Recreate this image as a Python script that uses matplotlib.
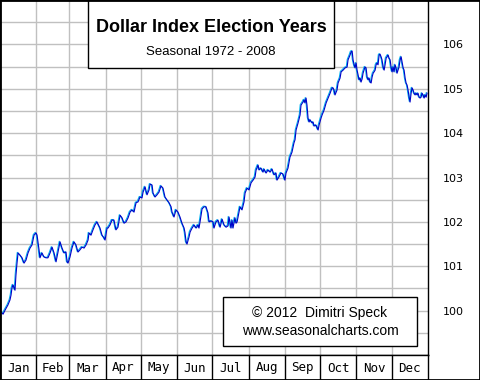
#%% load package
import numpy as np
import matplotlib
matplotlib.use('Agg')
import matplotlib.pyplot as plt
from matplotlib.patches import Rectangle
from matplotlib.transforms import offset_copy

#%% data: day of year vs seasonal index value
days = [
    0.9, 2.6, 4.3, 6.8, 8.5, 9.4, 10.2, 11.1, 12.8, 13.6, 14.5, 15.4, 17.1, 18.8, 20.5,
    22.2, 23.9, 25.6, 27.3, 29.0, 30.7, 31.6, 33.3, 34.1, 35.8, 37.5, 39.2, 40.9, 42.7,
    44.4, 46.1, 47.8, 49.5, 51.2, 52.9, 54.6, 56.3, 57.2, 58.0, 59.7, 61.4, 63.1, 64.8,
    66.5, 68.2, 69.9, 71.7, 73.4, 75.1, 75.9, 77.6, 79.3, 81.0, 82.7, 85.3, 87.0, 88.7,
    89.6, 91.3,
    92.1, 93.8, 95.5, 97.2, 98.9, 100.6, 102.4, 104.1, 105.8, 107.5, 109.2, 110.9, 112.6,
    114.3, 116.0, 117.7, 119.4, 121.1, 122.0, 123.7, 125.4, 127.1, 128.0, 129.7, 130.5,
    132.2, 133.9, 135.6, 137.3, 139.0, 140.7, 142.5, 144.2, 145.9, 146.7, 148.4, 150.1,
    151.8, 153.5, 155.2, 157.0, 157.8, 158.7, 159.5, 161.2, 162.1, 163.8, 165.5, 167.2,
    168.9, 169.7, 170.6, 172.3, 174.0, 175.7, 177.4, 178.3, 180.0, 181.7,
    182.5, 184.2, 185.9, 187.7, 189.4, 191.1, 192.8, 194.5, 195.3, 197.0, 197.9, 198.7,
    200.4, 201.3, 202.2, 203.0, 204.7, 206.4, 208.1, 209.0, 210.7, 212.4, 214.1, 215.8,
    217.5, 218.4, 220.1, 220.9, 222.6, 224.3, 225.2, 226.9, 228.6, 230.3, 232.0, 233.7,
    235.4, 236.2, 237.9, 239.6, 241.3, 243.0, 243.9, 245.6, 247.3, 249.0, 250.7, 251.6,
    252.5, 254.2, 255.9, 256.7, 258.4, 259.3, 260.1, 261.0, 261.8, 262.7, 263.6, 264.4,
    266.1, 267.0, 267.8, 269.5, 271.3, 272.1, 273.8, 274.7, 276.4, 278.1, 279.8, 281.5,
    283.2, 284.0, 284.9, 285.7, 287.4, 288.3, 290.0, 290.9, 292.6, 294.3, 296.0, 296.8,
    298.5, 299.4, 300.3,
    301.1, 302.0, 302.8, 303.7, 304.5, 305.4, 306.2, 307.1, 307.9, 308.8, 309.6, 310.5,
    311.3, 312.2, 313.1, 313.9, 314.8, 315.6, 316.5, 317.3, 318.2, 319.0, 319.9, 320.7,
    321.6, 322.4, 323.3, 324.1, 325.0, 325.8, 326.7, 327.6, 328.4, 329.3, 331.0, 331.8,
    332.7, 333.5, 334.4, 335.2, 336.1, 336.9, 337.8, 338.6, 339.5, 340.3, 341.2, 342.1,
    342.9, 343.8, 344.6, 345.5, 346.3, 347.2, 348.0, 348.9, 349.7, 350.6, 351.4, 352.3,
    353.1, 354.0, 354.8, 355.7, 356.5, 357.4, 358.2, 359.1, 359.9, 360.8, 361.7, 362.5,
    363.4, 364.2,
]
values = [
    99.97, 99.92, 100.01, 100.13, 100.24, 100.35, 100.51, 100.58, 100.46, 100.80, 101.07,
    101.30, 101.25, 101.19, 101.07, 101.14, 101.30, 101.41, 101.48, 101.70, 101.75, 101.70,
    101.37, 101.19, 101.30, 101.21, 101.19, 101.19, 101.30, 101.43, 101.30, 101.10, 101.32,
    101.55, 101.41, 101.30, 101.32, 101.10, 101.07, 101.21, 101.41, 101.55, 101.48, 101.32,
    101.37, 101.43, 101.41, 101.48, 101.59, 101.75, 101.70, 101.82, 101.93, 102.00, 101.86,
    101.70, 101.64, 101.59, 101.86,
    101.86, 101.93, 102.04, 102.04, 101.82, 101.88, 102.15, 102.09, 101.97, 102.00, 102.09,
    102.22, 102.27, 102.22, 102.43, 102.45, 102.56, 102.54, 102.67, 102.79, 102.61, 102.72,
    102.85, 102.83, 102.65, 102.56, 102.61, 102.67, 102.81, 102.76, 102.56, 102.49, 102.43,
    102.34, 102.22, 102.11, 102.27, 102.22, 102.11, 101.97, 101.86, 101.75, 101.55, 101.50,
    101.66, 101.77, 101.86, 101.93, 101.86, 101.93, 101.86, 102.00, 102.29, 102.34, 102.34,
    102.20, 102.00, 102.02, 102.00,
    101.86, 102.00, 102.04, 101.88, 102.06, 101.93, 101.88, 101.91, 102.11, 101.86, 102.04,
    101.86, 102.09, 101.97, 102.00, 102.11, 102.34, 102.27, 102.45, 102.65, 102.76, 102.72,
    102.88, 102.94, 103.01, 103.17, 103.28, 103.17, 103.21, 103.12, 103.19, 103.10, 103.17,
    103.12, 103.19, 103.06, 103.10, 102.94, 103.01, 103.10, 103.08, 102.94, 103.10, 103.21,
    103.46, 103.57, 103.78, 103.85,
    104.07, 104.23, 104.41, 104.63, 104.70, 104.75, 104.68, 104.79, 104.63, 104.34, 104.25,
    104.30, 104.23, 104.25, 104.16, 104.18, 104.07, 104.18, 104.34, 104.41, 104.52, 104.68,
    104.79, 104.90, 105.02, 105.02, 104.97, 104.86, 104.97, 105.13, 105.24, 105.38, 105.42,
    105.47, 105.49, 105.65, 105.76, 105.83, 105.85,
    105.65, 105.54, 105.47, 105.58, 105.42, 105.31, 105.20, 105.24, 105.15, 105.22, 105.35,
    105.42, 105.49, 105.47, 105.26, 105.20, 105.24, 105.15, 105.13, 105.26, 105.35, 105.38,
    105.42, 105.54, 105.58, 105.54, 105.76, 105.78, 105.72, 105.65, 105.49, 105.42, 105.54,
    105.69, 105.76, 105.69, 105.65, 105.49, 105.38, 105.49, 105.38, 105.54, 105.47, 105.35,
    105.42, 105.49, 105.65, 105.72, 105.60, 105.47, 105.42, 105.24, 105.13, 105.08, 104.97,
    104.81, 104.70, 104.90, 105.02, 104.97, 104.90, 104.86, 104.90, 104.86, 104.90, 104.81,
    104.79, 104.81, 104.90, 104.86, 104.79, 104.86, 104.81, 104.90,
]
month_names = ['Jan', 'Feb', 'Mar', 'Apr', 'May', 'Jun', 'Jul', 'Aug', 'Sep', 'Oct', 'Nov', 'Dec']
month_edges = [0, 31, 59, 90, 120, 151, 181, 212, 243, 273, 304, 334, 365]
y_labels = [100, 101, 102, 103, 104, 105, 106]

title = 'Dollar Index Election Years'
subtitle = 'Seasonal 1972 - 2008'
credit = ['\u00a9 2012  Dimitri Speck', 'www.seasonalcharts.com']

#%% figure
W, H = 480, 380
fig = plt.figure(figsize=(4.8, 3.8), dpi=100)
fig.patch.set_facecolor('white')

plot_r = 428
band_h = 25
ax = fig.add_axes([0, band_h / H, plot_r / W, (H - band_h) / H])
ax.set_xlim(0, 365)
ax.set_ylim(99, 107)

ax.set_xticks(month_edges[1:-1])
ax.set_xticklabels([])
ax.set_yticks(y_labels)
ax.set_yticks(np.arange(99.5, 107, 1.0), minor=True)
ax.yaxis.tick_right()
ax.tick_params(axis='both', which='both', length=0)
ax.tick_params(axis='y', pad=11, labelsize=8)
ax.grid(True, which='both', color='#c0c0c0', lw=1)
ax.set_axisbelow(True)
for s in ax.spines.values():
    s.set_color('black')
    s.set_linewidth(1)

# cyan shadow then the dark blue line
shadow = offset_copy(ax.transData, fig=fig, x=-0.8, y=0.6, units='dots')
ax.plot(days, values, color='#00b4f0', lw=0.75, transform=shadow, zorder=3)
ax.plot(days, values, color='#0000c8', lw=0.8, zorder=4)

# month band
bx = fig.add_axes([0, 0, plot_r / W, band_h / H])
bx.set_xlim(0, 365)
bx.set_ylim(0, 1)
bx.set_xticks([])
bx.set_yticks([])
for s in bx.spines.values():
    s.set_color('black')
    s.set_linewidth(1)
for e in month_edges[1:-1]:
    bx.axvline(e, color='black', lw=1)
for i, m in enumerate(month_names):
    bx.text((month_edges[i] + month_edges[i + 1]) / 2, 0.48, m, ha='center', va='center',
            family='DejaVu Sans Mono', fontsize=9)

# title box
fig.patches.append(Rectangle((88 / W, 1 - 68 / H), (334 - 88) / W, 68 / H, transform=fig.transFigure,
                             facecolor='white', edgecolor='black', lw=1, zorder=5))
fig.text(211 / W, 1 - 27 / H, title, ha='center', va='center', family='Liberation Sans',
         weight='bold', fontsize=13, zorder=6)
fig.text(211 / W, 1 - 52 / H, subtitle, ha='center', va='center', family='Liberation Sans',
         fontsize=9.5, zorder=6)

# credit box
fig.patches.append(Rectangle((223 / W, 1 - 346 / H), (417 - 223) / W, (346 - 297) / H,
                             transform=fig.transFigure, facecolor='white', edgecolor='black',
                             lw=1, zorder=5))
fig.text(320 / W, 1 - 313 / H, credit[0], ha='center', va='center', family='Liberation Sans',
         fontsize=10, zorder=6)
fig.text(320 / W, 1 - 331 / H, credit[1], ha='center', va='center', family='Liberation Sans',
         fontsize=10, zorder=6)

# outer border
fig.patches.append(Rectangle((0, 0), 1, 1, transform=fig.transFigure, fill=False,
                             edgecolor='black', lw=2, zorder=7))

plt.savefig('out.png', dpi=100)
